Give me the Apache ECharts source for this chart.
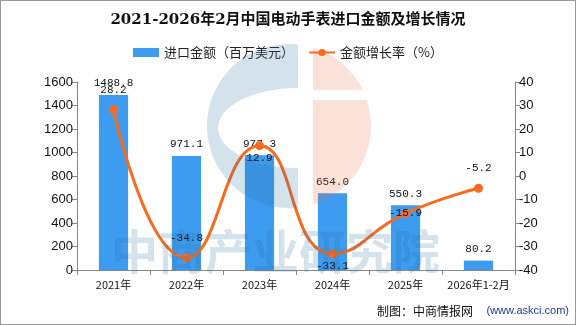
<!DOCTYPE html>
<html><head><meta charset="utf-8">
<script src="https://cdn.jsdelivr.net/npm/echarts@6/dist/echarts.min.js"></script>
<style>html,body{margin:0;padding:0;background:#fff}#c{width:576px;height:325px;box-sizing:border-box;border:1px solid #999}</style>
</head><body><div id="c"></div>
<script>
const categories = ['2021年','2022年','2023年','2024年','2025年','2026年1-2月'];
const importValues = [1488.8, 971.1, 977.3, 654.0, 550.3, 80.2];
const growthRates = [28.2, -34.8, 12.9, -33.1, -15.9, -5.2];
const growthLabelPos = ['top','top','bottom','bottom','inside','top'];

const chart = echarts.init(document.getElementById('c'));
const labelFont = {fontFamily:'"Liberation Mono","DejaVu Sans Mono",monospace', fontSize:11, color:'#111'};
const wmBlue = 'rgba(40,110,160,0.2)';
const wmOrange = 'rgba(235,110,60,0.2)';

// watermark logo outline (decoration only)
function logoShapes(){
  const cx = 288, cy = 125, R = 82, d = Math.PI/180;
  const arc = (a0, a1, n) => { const p=[]; for(let i=0;i<=n;i++){const a=(a0+(a1-a0)*i/n)*d; p.push([cx+R*Math.cos(a), cy-R*Math.sin(a)]);} return p; };
  const t0 = Math.acos((297-cx)/R)/d;
  const blue = arc(t0, 360-t0, 60);
  for(let i=0;i<=40;i++){const a=(270-180*i/40)*d; blue.push([297+80*Math.cos(a), 127-40*Math.sin(a)]);}
  const t1 = Math.acos((312-cx)/R)/d;
  const capTop = Math.asin(36/R)/d, capBot = Math.asin(26/R)/d;
  const o1 = arc(t1, capTop, 20); o1.push([312, 89]);
  const o2 = arc(capBot, -t1, 40); o2.push([312, 99]);
  return [
    {type:'polygon', silent:true, z:100, shape:{points:blue}, style:{fill:wmBlue}},
    {type:'polygon', silent:true, z:100, shape:{points:o1}, style:{fill:wmOrange}},
    {type:'polygon', silent:true, z:100, shape:{points:o2}, style:{fill:wmOrange}}
  ];
}

chart.setOption({
  animation:false,
  title:{text:'2021-2026年2月中国电动手表进口金额及增长情况', left:'center', top:7,
    textStyle:{fontSize:15, fontWeight:'bold', color:'#111', fontFamily:'"DejaVu Serif","Noto Sans CJK SC",serif'}},
  legend:{top:40, left:'center', itemGap:14, itemWidth:26, itemHeight:9,
    textStyle:{fontSize:13, color:'#222', fontFamily:'"Noto Sans CJK SC",sans-serif'},
    data:[{name:'进口金额（百万美元）', icon:'rect'},{name:'金额增长率（%）'}]},
  grid:{left:76, right:60, top:81, bottom:54},
  graphic:[
    ...logoShapes(),
    {type:'text', silent:true, z:100, left:110, top:227, style:{text:'中商产业研究院', fontSize:47, fontWeight:'bold', fill:wmBlue, fontFamily:'"Noto Sans CJK SC",sans-serif', letterSpacing:3}},
    {type:'text', right:102, bottom:7, style:{text:'制图：中商情报网', fontSize:12, fill:'#111', fontFamily:'"Noto Sans CJK SC",sans-serif'}},
    {type:'text', right:6, bottom:8, style:{text:'(www.askci.com)', fontSize:11, fill:'#1a3a9a', fontFamily:'"Liberation Sans",sans-serif'}}
  ],
  xAxis:{type:'category', data:categories,
    axisLine:{lineStyle:{color:'#888'}}, axisTick:{show:true, length:5, lineStyle:{color:'#888'}},
    axisLabel:{interval:0, fontSize:11, color:'#111', margin:9, fontFamily:'"Noto Sans CJK SC",sans-serif'}},
  yAxis:[
    {type:'value', min:0, max:1600, interval:200, splitLine:{show:false},
      axisLine:{show:true, lineStyle:{color:'#888'}}, axisTick:{show:true, length:5, lineStyle:{color:'#888'}},
      axisLabel:{formatter:v=>String(v), fontSize:13, color:'#111', margin:4, fontFamily:'"Liberation Sans",sans-serif'}},
    {type:'value', min:-40, max:40, interval:10, splitLine:{show:false},
      axisLine:{show:true, lineStyle:{color:'#888'}}, axisTick:{show:true, length:5, lineStyle:{color:'#888'}},
      axisLabel:{formatter:v=>String(v), fontSize:13, color:'#111', margin:4, fontFamily:'"Liberation Sans",sans-serif'}}
  ],
  series:[
    {name:'进口金额（百万美元）', type:'bar', data:importValues, barWidth:'40%', yAxisIndex:0,
      itemStyle:{color:'#3e9cf0'},
      label:{show:true, position:'top', distance:6, formatter:p=>p.value.toFixed(1), ...labelFont}},
    {name:'金额增长率（%）', type:'line', yAxisIndex:1, smooth:true, symbol:'circle', symbolSize:9,
      data:growthRates.map((v,i)=>({value:v, label:{position:growthLabelPos[i], distance: growthLabelPos[i]==='top'?10:2}})),
      lineStyle:{color:'#fa6a1e', width:3}, itemStyle:{color:'#fa6a1e'},
      label:{show:true, formatter:p=>p.value.toFixed(1), ...labelFont}}
  ]
});
</script></body></html>
